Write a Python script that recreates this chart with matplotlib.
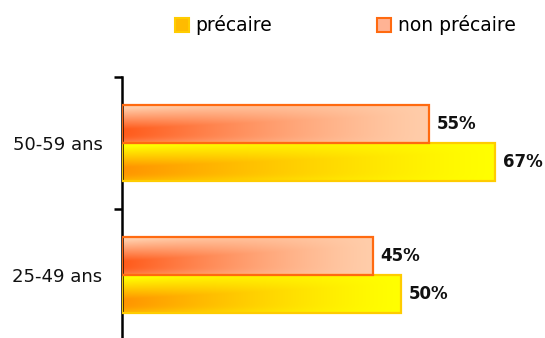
import numpy as np
import matplotlib
matplotlib.use("Agg")
from matplotlib import pyplot as plt
from matplotlib.patches import Rectangle, Patch
from matplotlib.colors import to_rgb

# data
categories = ["25-49 ans", "50-59 ans"]
precaire = [50, 67]
non_precaire = [45, 55]
series_names = ["précaire", "non précaire"]


def gradient(dark, light, nx=200, ny=40):
    """dark at lower left, fading to light towards the top and the right"""
    xs = np.linspace(0, 1, nx)
    ys = np.linspace(0, 1, ny)  # 0 = bottom, 1 = top
    X, Y = np.meshgrid(xs, ys)
    v = np.clip((0.9 - Y + 0.4 * X) / 0.55, 0, 1)
    v = v * (1 - 0.25 * np.exp(-(Y / 0.12) ** 2))
    h = np.clip(1 - X, 0, 1) ** 1.3
    d = np.clip(v * h, 0, 1)[..., None]
    dark = np.array(to_rgb(dark))
    light = np.array(to_rgb(light))
    return light * (1 - d) + dark * d


fig = plt.figure(figsize=(5.45, 3.38), dpi=100)
ax = fig.add_axes([122 / 545, -3 / 338, 418 / 545, 264 / 338])

bh = 0.288
styles = [
    # (values, offset, dark, light, edge)
    (precaire, -bh / 2, "#ff9400", "#ffff00", "#ffcc00"),
    (non_precaire, bh / 2, "#ff5a1a", "#ffcdaa", "#ff6a10"),
]
for vals, off, dark, light, edge in styles:
    for i, v in enumerate(vals):
        y0 = i + off - bh / 2
        img = gradient(dark, light)
        ax.imshow(img, extent=(0, v, y0, y0 + bh), origin="lower",
                  aspect="auto", interpolation="bilinear", zorder=2)
        ax.add_patch(Rectangle((0, y0), v, bh, fill=False, edgecolor=edge,
                               lw=1.6, zorder=3))
        ax.text(v + 1.4, i + off, f"{v}%", va="center", ha="left",
                fontsize=12, fontweight="bold", color="#111111")

ax.set_xlim(0, 75)
ax.set_ylim(-0.5, 1.5)
for s in ["top", "right", "bottom"]:
    ax.spines[s].set_visible(False)
ax.spines["left"].set_linewidth(1.8)
ax.set_xticks([])
ax.set_yticks([-0.5, 0.5, 1.5])
ax.set_yticklabels([])
ax.tick_params(axis="y", which="major", length=6, width=1.8, direction="out")
ax.set_yticks([0, 1], minor=True)
ax.set_yticklabels(categories, minor=True, fontsize=13, color="#111111")
ax.tick_params(axis="y", which="minor", length=0, pad=14)

handles = [
    Patch(facecolor="#ffbb00", edgecolor="#ffcc00", lw=1.5),
    Patch(facecolor="#ffb394", edgecolor="#ff6a10", lw=1.5),
]
fig.legend(handles, series_names, loc="upper center", bbox_to_anchor=(0.633, 1.005),
           ncol=2, frameon=False, fontsize=13.5, handlelength=0.75,
           handleheight=0.75, handletextpad=0.35, columnspacing=5.6)

fig.savefig("out.png", dpi=100)
